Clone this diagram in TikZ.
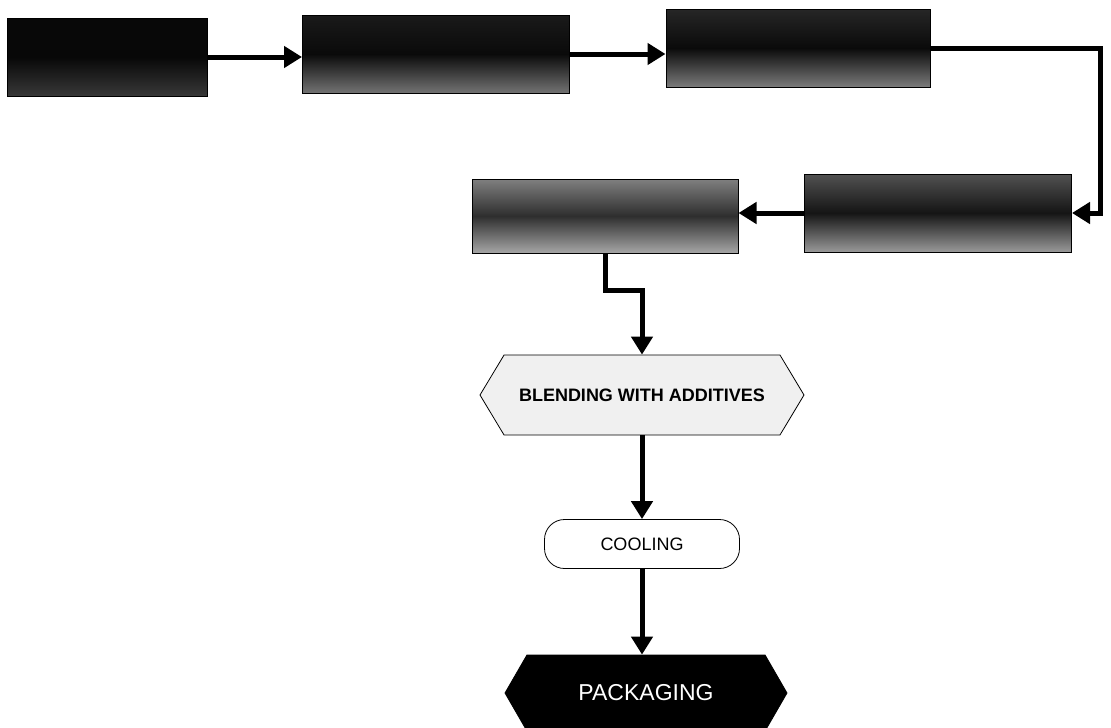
\documentclass[tikz,border=0pt]{standalone}
\usepackage{fontspec}
\setmainfont{Liberation Sans}
\usepackage{tikz}
\usetikzlibrary{positioning,arrows.meta,shapes.symbols}

\tikzset{
  flow/.style={line width=5pt,-{Triangle[length=18pt,width=21pt]}},
  darkbox/.style={draw=black,line width=1pt,minimum height=78pt},
  hexbox/.style={shape=signal,signal to=west and east,signal from=nowhere,draw=black,line width=0.8pt,inner sep=0pt}
}

\begin{document}
\begin{tikzpicture}[x=1pt,y=-1pt]
            \useasboundingbox (0,0) rectangle (1111,728);
            \node[darkbox,top color=black!97,bottom color=black!78,middle color=black!97,minimum width=200pt] (dryer) at (107,57) {};
            \node[darkbox,top color=black!90,bottom color=black!55,middle color=black!96,minimum width=267pt] (bleach) at (436,54) {};
            \node[darkbox,top color=black!85,bottom color=black!52,middle color=black!96,minimum width=264pt] (filter) at (798,48) {};
            \node[darkbox,top color=black!68,bottom color=black!40,middle color=black!92,minimum width=267pt] (deodor) at (938,213) {};
            \node[darkbox,top color=black!50,bottom color=black!35,middle color=black!82,minimum width=266pt,minimum height=74pt] (hydro) at (605,216) {};
            \node[hexbox,fill=black!6,minimum width=324pt,minimum height=80pt,signal pointer angle=118,font=\bfseries\fontsize{18}{20}\selectfont] (blend) at (642,395) {BLENDING WITH ADDITIVES};
            \node[draw=black,line width=0.8pt,fill=white,rounded corners=20pt,minimum width=195pt,minimum height=49pt,font=\fontsize{18}{20}\selectfont] (cool) at (642,544) {COOLING};
            \node[hexbox,fill=black,text=white,minimum width=282pt,minimum height=76pt,signal pointer angle=120,font=\fontsize{23}{25}\selectfont] (pack) at (646,693) {PACKAGING};
            \draw[flow] (dryer.east) -- (dryer.east -| bleach.west);
            \draw[flow] (bleach.east) -- (bleach.east -| filter.west);
            \draw[flow] (filter.east) -- ++(170,0) |- (deodor.east);
            \draw[flow] (deodor.west) -- (deodor.west -| hydro.east);
            \draw[flow] (hydro.south) -- ++(0,37) -| (blend.north);
            \draw[flow] (blend.south) -- (cool.north);
            \draw[flow] (cool.south) -- (cool.south |- pack.north);
            \end{tikzpicture}
\end{document}
